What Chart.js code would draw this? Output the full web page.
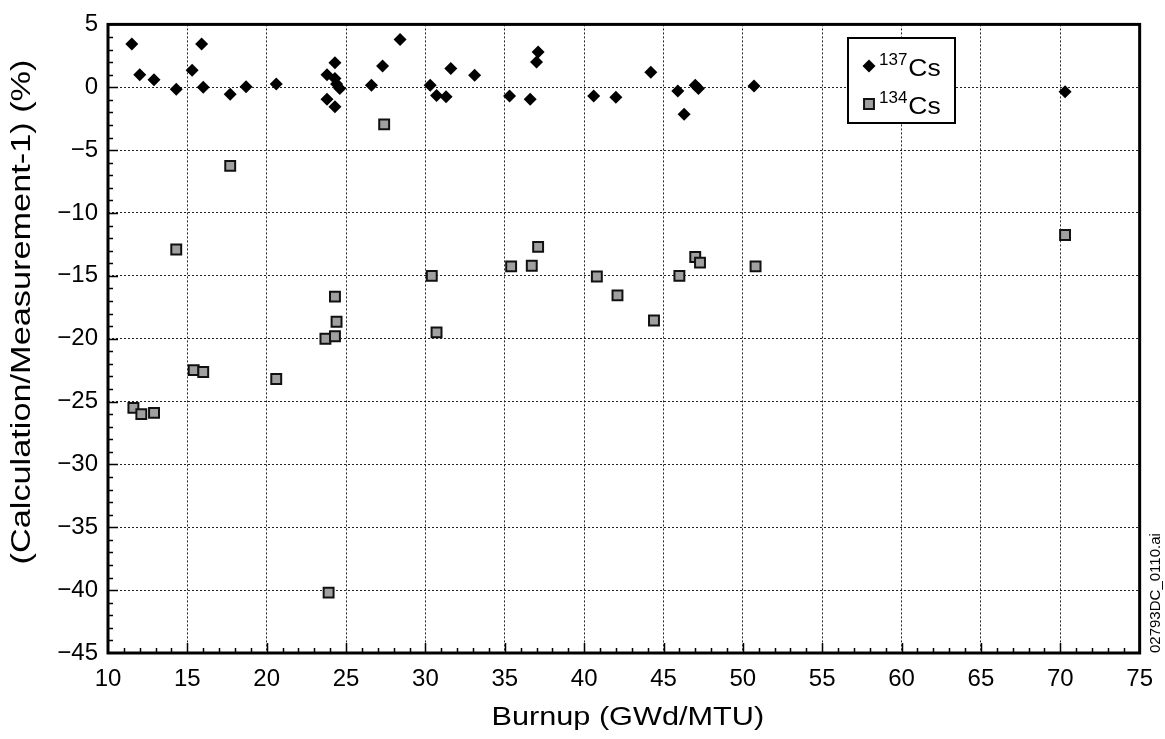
<!DOCTYPE html>
<html>
<head>
<meta charset="utf-8">
<title>Cs-137 / Cs-134 calculation vs measurement</title>
<script src="https://cdn.jsdelivr.net/npm/chart.js@4.4.1/dist/chart.umd.min.js"></script>
<style>
    html, body { margin: 0; padding: 0; background: #fff; }
    #wrap { width: 1165px; height: 739px; position: relative; }
</style>
</head>
<body>
<div id="wrap"><canvas id="burnupChart"></canvas></div>
<script>
// burnup (GWd/MTU) and deviation (%)
const cs137Burnup = [11.5, 12.0, 12.9, 14.3, 15.3, 15.9, 16.0, 17.7, 18.7, 20.6,
    23.8, 24.3, 24.3, 24.4, 24.6, 23.8, 24.3, 26.6, 27.3, 28.4,
    30.3, 30.7, 31.3, 31.6, 33.1, 35.3, 36.6, 37.0, 37.1, 40.6,
    42.0, 44.2, 45.9, 46.3, 47.0, 47.2, 50.7, 70.3];
const cs137Diff = [3.45, 1.0, 0.6, -0.15, 1.35, 3.45, 0.0, -0.55, 0.05, 0.25,
    1.0, 1.95, 0.7, 0.25, -0.1, -0.95, -1.55, 0.15, 1.7, 3.8,
    0.15, -0.65, -0.75, 1.5, 0.95, -0.7, -0.95, 2.0, 2.8, -0.7,
    -0.8, 1.2, -0.3, -2.15, 0.15, -0.1, 0.1, -0.35];

const cs134Burnup = [11.6, 12.1, 12.9, 14.3, 15.4, 16.0, 17.7, 20.6, 23.7, 23.9,
    24.3, 24.4, 24.3, 27.4, 30.4, 30.7, 35.4, 36.7, 37.1, 40.8,
    42.1, 44.4, 46.0, 47.0, 47.3, 50.8, 70.3];
const cs134Diff = [-25.5, -26.0, -25.9, -12.9, -22.5, -22.65, -6.25, -23.2, -20.0, -40.2,
    -19.8, -18.65, -16.65, -2.95, -15.0, -19.5, -14.25, -14.2, -12.7, -15.05,
    -16.55, -18.55, -15.0, -13.5, -13.95, -14.25, -11.75];

const xMin = 10, xMax = 75, xStep = 5;
const yMin = -45, yMax = 5, yStep = 5;
const xTitle = 'Burnup (GWd/MTU)';
const yTitle = '(Calculation/Measurement-1) (%)';
const fileTag = '02793DC_0110.ai';

const fontFamily = '"Liberation Sans", Arial, Helvetica, sans-serif';
const toPoints = (xs, ys) => xs.map((x, i) => ({ x: x, y: ys[i] }));

// the scanned figure has its titles drawn a bit wide, so stretch along the text
function stretchedText(ctx, text, x, y, size, stretch, rot) {
    ctx.save();
    ctx.translate(x, y);
    ctx.rotate(rot);
    ctx.scale(stretch, 1);
    ctx.font = size + 'px ' + fontFamily;
    ctx.fillStyle = '#000';
    ctx.textAlign = 'center';
    ctx.textBaseline = 'middle';
    ctx.fillText(text, 0, 0);
    ctx.restore();
}

// frame, minor ticks, titles, legend box and file tag
const decorPlugin = {
    id: 'decor',
    afterDraw(chart) {
        const ctx = chart.ctx;
        const area = chart.chartArea;
        const xs = chart.scales.x, ys = chart.scales.y;
        ctx.save();
        ctx.strokeStyle = '#000';
        ctx.lineWidth = 1.5;
        ctx.beginPath();
        for (let v = xMin + 1; v < xMax; v++) {
            const px = Math.round(xs.getPixelForValue(v)) + 0.5;
            const len = v % xStep === 0 ? 10 : 5;
            ctx.moveTo(px, area.bottom);
            ctx.lineTo(px, area.bottom - len);
        }
        for (let v = yMin + 1; v < yMax; v++) {
            const py = Math.round(ys.getPixelForValue(v)) + 0.5;
            const len = v % yStep === 0 ? 10 : 5;
            ctx.moveTo(area.left, py);
            ctx.lineTo(area.left + len, py);
        }
        ctx.stroke();

        ctx.lineWidth = 3;
        ctx.strokeRect(area.left, area.top, area.right - area.left, area.bottom - area.top);

        stretchedText(ctx, xTitle, (area.left + area.right) / 2 + 4, 718, 26, 1.18, 0);
        stretchedText(ctx, yTitle, 23, 312, 27, 1.27, -Math.PI / 2);

        // legend
        const bx = 848, by = 38, bw = 107, bh = 85;
        ctx.fillStyle = '#fff';
        ctx.fillRect(bx, by, bw, bh);
        ctx.lineWidth = 2;
        ctx.strokeRect(bx, by, bw, bh);
        const sets = chart.data.datasets;
        const rows = [
            { ds: sets[0], y: 66, mass: '137' },
            { ds: sets[1], y: 104, mass: '134' }
        ];
        rows.forEach(r => {
            ctx.fillStyle = r.ds.pointBackgroundColor;
            ctx.strokeStyle = r.ds.pointBorderColor;
            Chart.helpers.drawPoint(ctx, {
                pointStyle: r.ds.pointStyle,
                radius: r.ds.pointRadius,
                borderWidth: r.ds.pointBorderWidth,
                rotation: 0
            }, 869, r.y);
            ctx.fillStyle = '#000';
            ctx.textBaseline = 'alphabetic';
            ctx.textAlign = 'left';
            ctx.font = '17px ' + fontFamily;
            ctx.fillText(r.mass, 879, r.y - 1);
            const w = ctx.measureText(r.mass).width;
            ctx.save();
            ctx.translate(879 + w + 1, r.y + 10);
            ctx.scale(1.15, 1);
            ctx.font = '23px ' + fontFamily;
            ctx.fillText('Cs', 0, 0);
            ctx.restore();
        });

        ctx.translate(1160, 653);
        ctx.rotate(-Math.PI / 2);
        ctx.font = '15px ' + fontFamily;
        ctx.fillStyle = '#000';
        ctx.textAlign = 'left';
        ctx.textBaseline = 'alphabetic';
        ctx.fillText(fileTag, 0, 0);
        ctx.restore();
    }
};

const minusSign = v => String(v).replace('-', '\u2212');

new Chart(document.getElementById('burnupChart').getContext('2d'), {
    type: 'scatter',
    data: {
        datasets: [{
            label: '137Cs',
            data: toPoints(cs137Burnup, cs137Diff),
            pointStyle: 'rectRot',
            pointRadius: 6.5,
            pointBackgroundColor: '#000',
            pointBorderColor: '#000',
            pointBorderWidth: 0
        }, {
            label: '134Cs',
            data: toPoints(cs134Burnup, cs134Diff),
            pointStyle: 'rect',
            pointRadius: 7,
            pointBackgroundColor: '#a0a0a0',
            pointBorderColor: '#111',
            pointBorderWidth: 2
        }]
    },
    options: {
        responsive: true,
        maintainAspectRatio: false,
        animation: false,
        layout: { padding: { top: 16, right: 20, left: 0, bottom: 0 } },
        plugins: {
            legend: { display: false },
            tooltip: { enabled: false }
        },
        scales: {
            x: {
                type: 'linear',
                min: xMin,
                max: xMax,
                afterFit: s => { s.height = 86; },
                ticks: {
                    stepSize: xStep,
                    color: '#000',
                    padding: 12,
                    maxRotation: 0,
                    font: { family: fontFamily, size: 24 }
                },
                grid: {
                    color: '#222',
                    lineWidth: 1,
                    drawTicks: false
                },
                border: { display: false, dash: [2, 2] },
                title: { display: false }
            },
            y: {
                type: 'linear',
                min: yMin,
                max: yMax,
                afterFit: s => { s.width = 108; },
                ticks: {
                    stepSize: yStep,
                    color: '#000',
                    padding: 10,
                    callback: v => minusSign(v),
                    font: { family: fontFamily, size: 24 }
                },
                grid: {
                    color: '#222',
                    lineWidth: 1,
                    drawTicks: false
                },
                border: { display: false, dash: [2, 2] },
                title: { display: false }
            }
        }
    },
    plugins: [decorPlugin]
});
</script>
</body>
</html>
